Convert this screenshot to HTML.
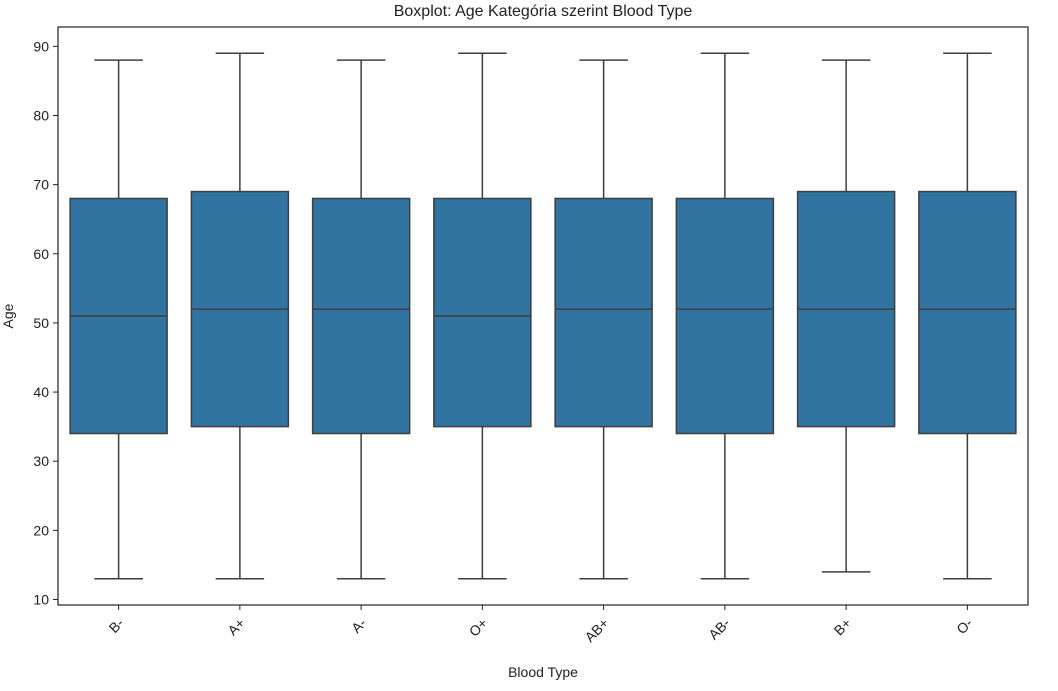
<!DOCTYPE html>
<html><head><meta charset="utf-8"><style>
body{margin:0;background:#fff;}
svg text{font-family:"Liberation Sans","DejaVu Sans",sans-serif;fill:#222;}
</style></head><body>
<svg id="chart" width="1058" height="686">
<text x="543" y="16" font-size="16" text-anchor="middle">Boxplot: Age Kategória szerint Blood Type</text>
<g id="plot"></g>
<rect x="58" y="27" width="970" height="578" fill="none" stroke="#222" stroke-width="1.2"/>
<text x="543" y="677" font-size="14" text-anchor="middle">Blood Type</text>
<text transform="translate(13,316) rotate(-90)" font-size="14" text-anchor="middle">Age</text>
</svg>
<script>
const categories=["B-","A+","A-","O+","AB+","AB-","B+","O-"];
const mins=[13,13,13,13,13,13,14,13];
const q1s=[34,35,34,35,35,34,35,34];
const medians=[51,52,52,51,52,52,52,52];
const q3s=[68,69,68,68,68,68,69,69];
const maxs=[88,89,88,89,88,89,88,89];
const yTicks=[10,20,30,40,50,60,70,80,90];
const ns="http://www.w3.org/2000/svg";
const L=58,R=1028,T=27,B=605,ymin=9.2,ymax=92.8;
const y=v=>B-(v-ymin)/(ymax-ymin)*(B-T);
const bw=(R-L)/categories.length;
const x=i=>L+bw*(i+0.5);
const g=document.getElementById('plot');
function mk(t,a){const e=document.createElementNS(ns,t);for(const k in a)e.setAttribute(k,a[k]);g.appendChild(e);return e;}
yTicks.forEach(v=>{
const t=mk('line',{x1:L-5,x2:L,y1:y(v),y2:y(v),stroke:'#222'});


const l=mk('text',{x:L-9,y:y(v)+5,'font-size':14,'text-anchor':'end'});l.textContent=v;


});
categories.forEach((c,i)=>{
const cx=x(i),hw=bw*0.4,cw=bw*0.2,st='#3f3f3f';
const w1=mk('line',{x1:cx,x2:cx,y1:y(mins[i]),y2:y(q1s[i]),stroke:st,'stroke-width':1.5});


const w2=mk('line',{x1:cx,x2:cx,y1:y(q3s[i]),y2:y(maxs[i]),stroke:st,'stroke-width':1.5});


const c1=mk('line',{x1:cx-cw,x2:cx+cw,y1:y(mins[i]),y2:y(mins[i]),stroke:st,'stroke-width':1.5});


const c2=mk('line',{x1:cx-cw,x2:cx+cw,y1:y(maxs[i]),y2:y(maxs[i]),stroke:st,'stroke-width':1.5});


const b=mk('rect',{x:cx-hw,y:y(q3s[i]),width:2*hw,height:y(q1s[i])-y(q3s[i]),fill:'#3274a1',stroke:st,'stroke-width':1.5});


const m=mk('line',{x1:cx-hw,x2:cx+hw,y1:y(medians[i]),y2:y(medians[i]),stroke:st,'stroke-width':1.5});


const t=mk('line',{x1:cx,x2:cx,y1:B,y2:B+5,stroke:'#222'});


const l=mk('text',{transform:`translate(${cx+6},${B+19}) rotate(-45)`,'font-size':14,'text-anchor':'end'});l.textContent=c;


});
</script>
</body></html>
